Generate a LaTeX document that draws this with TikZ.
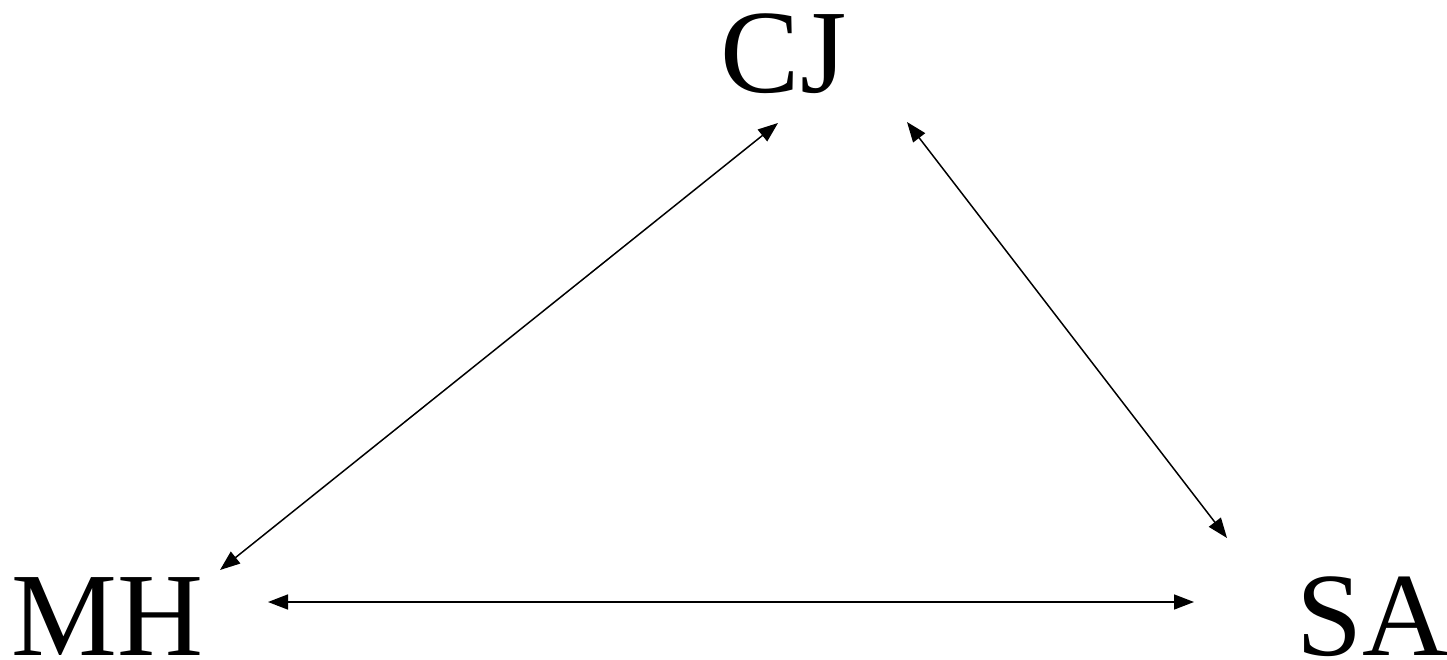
\documentclass[tikz,border=0pt]{standalone}
\usepackage{fontspec}
\setmainfont{Liberation Serif}
\usetikzlibrary{arrows.meta}
\begin{document}
\begin{tikzpicture}[x=1bp,y=-1bp,
  lbl/.style={inner sep=0pt, anchor=base west, font=\fontsize{119bp}{130bp}\selectfont},
  link/.style={line width=1.5bp, {Triangle[length=20bp,width=15bp]}-{Triangle[length=20bp,width=15bp]}}]
\useasboundingbox (0,0) rectangle (1447,660);
\node[lbl] (CJ) at (720.7,93) {CJ};
\node[lbl] (MH) at (11.6,655) {MH};
\node[lbl] (SA) at (1296,655) {SA};
\coordinate (mhA) at (220,570);
\coordinate (cjA) at (778,123);
\coordinate (cjB) at (907,122);
\coordinate (saB) at (1227,538);
\coordinate (mhC) at (268,602);
\coordinate (saC) at (1194,602);
\draw[link] (mhA) -- (cjA);
\draw[link] (cjB) -- (saB);
\draw[link] (mhC) -- (saC);
\end{tikzpicture}
\end{document}
